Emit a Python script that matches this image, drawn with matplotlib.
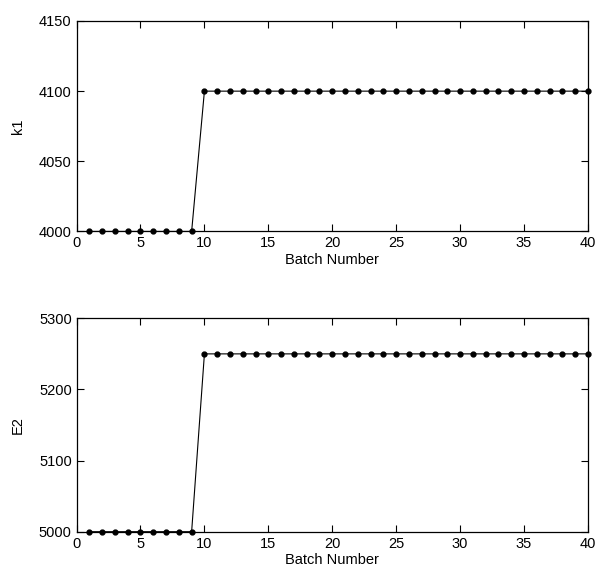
import numpy as np
import matplotlib
matplotlib.use('Agg')
from matplotlib import pyplot as plt

plt.rcParams['font.family'] = ['Liberation Sans', 'DejaVu Sans']

batch = np.arange(1, 41)
k1 = [4000] * 9 + [4100] * 31
e2 = [5000] * 9 + [5250] * 31

fig = plt.figure(figsize=(6.03, 5.83), dpi=100)
ax1 = fig.add_axes([0.127, 0.603, 0.848, 0.361])
ax2 = fig.add_axes([0.127, 0.088, 0.848, 0.366])

for ax, y, ylab, ylim, yt in [
    (ax1, k1, 'k1', (4000, 4150), [4000, 4050, 4100, 4150]),
    (ax2, e2, 'E2', (5000, 5300), [5000, 5100, 5200, 5300]),
]:
    ax.plot(batch, y, '-', color='black', lw=0.8, marker='o', ms=3.5, clip_on=False)
    ax.set_xlim(0, 40)
    ax.set_ylim(*ylim)
    ax.set_xticks(range(0, 41, 5))
    ax.set_yticks(yt)
    ax.set_xlabel('Batch Number', fontsize=10.5, labelpad=2)
    ax.set_ylabel(ylab, fontsize=10.5, labelpad=10)
    ax.tick_params(direction='in', top=True, right=True, length=5, labelsize=10.5, width=0.8)
    for s in ax.spines.values():
        s.set_linewidth(0.9)

fig.savefig('out.png', dpi=100)
